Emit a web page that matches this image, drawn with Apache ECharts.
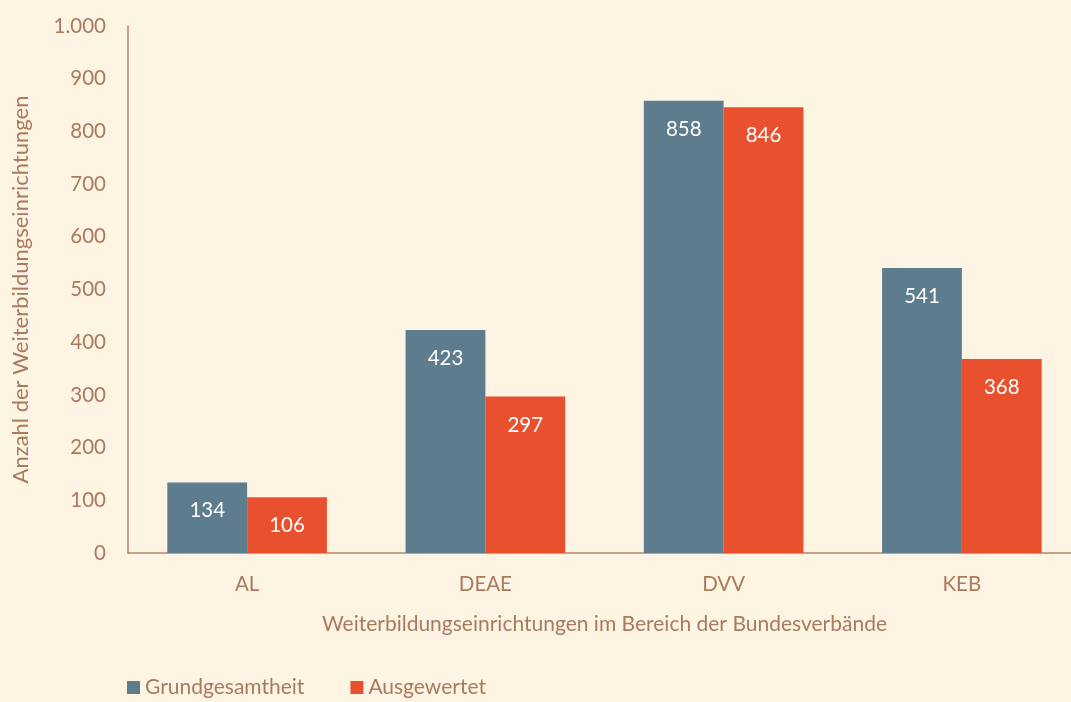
<!DOCTYPE html>
<html>
<head>
<meta charset="utf-8">
<script src="https://cdn.jsdelivr.net/npm/echarts@6/dist/echarts.min.js"></script>
<style>
  html, body { margin: 0; padding: 0; background: #fdf4e3; }
  #chart { width: 1071px; height: 702px; }
</style>
</head>
<body>
<div id="chart"></div>
<script>
var categories = ['AL', 'DEAE', 'DVV', 'KEB'];
var grundgesamtheit = [134, 423, 858, 541];
var ausgewertet = [106, 297, 846, 368];
var seriesNames = ['Grundgesamtheit', 'Ausgewertet'];

var brown = '#a97a5e';
var font = 'Lato';

function fmt(v) {
  return String(v).replace(/\B(?=(\d{3})+(?!\d))/g, '.');
}

var chart = echarts.init(document.getElementById('chart'));
var option = {
  backgroundColor: '#fdf4e3',
  textStyle: { fontFamily: font },
  grid: { left: 128, width: 953, top: 26, bottom: 149, outerBoundsMode: 'none', containLabel: false },
  legend: {
    left: 122,
    bottom: -1,
    itemWidth: 13,
    itemHeight: 13,
    itemGap: 46,
    icon: 'rect',
    textStyle: { color: brown, fontSize: 21, fontFamily: font },
    data: seriesNames
  },
  xAxis: {
    type: 'category',
    data: categories,
    axisLine: { lineStyle: { color: '#b5856a', width: 1.5 } },
    axisTick: { show: false },
    axisLabel: { color: brown, fontSize: 20.5, margin: 21 },
    name: 'Weiterbildungseinrichtungen im Bereich der Bundesverbände',
    nameLocation: 'middle',
    nameGap: 61,
    nameTextStyle: { color: brown, fontSize: 21 }
  },
  yAxis: {
    type: 'value',
    min: 0,
    max: 1000,
    interval: 100,
    axisLine: { show: true, lineStyle: { color: '#b5856a', width: 1.5 } },
    axisTick: { show: false },
    splitLine: { show: false },
    axisLabel: { color: brown, fontSize: 20.5, margin: 22, formatter: fmt },
    name: 'Anzahl der Weiterbildungseinrichtungen',
    nameLocation: 'middle',
    nameGap: 96,
    nameTextStyle: { color: brown, fontSize: 22 }
  },
  series: [
    {
      name: seriesNames[0],
      type: 'bar',
      data: grundgesamtheit,
      itemStyle: { color: '#5d7c8d' },
      barGap: '0%',
      barCategoryGap: '33%',
      label: { show: true, position: 'insideTop', distance: 18, color: '#fff', fontSize: 20.5 }
    },
    {
      name: seriesNames[1],
      type: 'bar',
      data: ausgewertet,
      itemStyle: { color: '#e8502e' },
      label: { show: true, position: 'insideTop', distance: 18, color: '#fff', fontSize: 20.5 }
    }
  ]
};
option && chart.setOption(option);
</script>
</body>
</html>
